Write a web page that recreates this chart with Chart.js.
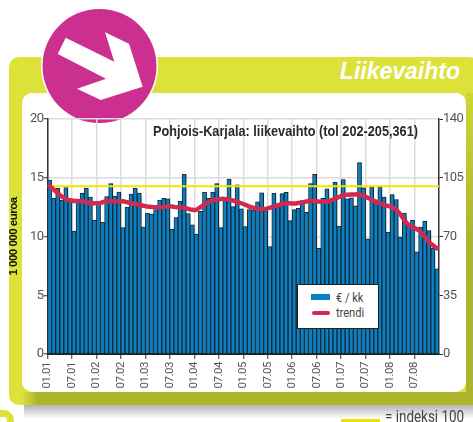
<!DOCTYPE html>
<html><head><meta charset="utf-8">
<script src="https://cdn.jsdelivr.net/npm/chart.js@4"></script>
<style>
html,body{margin:0;padding:0;background:#fff;width:473px;height:422px;overflow:hidden}
.a{position:absolute}
.n{font-family:Roboto,"Liberation Sans",sans-serif;white-space:nowrap;transform-origin:left center}
</style></head><body>
<div class="a" style="left:24px;top:405px;width:449px;height:14px;background:linear-gradient(#b4b4b4,#ffffff)"></div>
<div class="a" style="left:9px;top:57px;width:470px;height:348px;background:#dce239;border-radius:10px"></div>
<div class="a" style="left:466px;top:93px;width:7px;height:312px;background:linear-gradient(#d0d535,#acb52c 45%)"></div>
<div class="a" style="left:22px;top:392px;width:451px;height:13px;background:linear-gradient(90deg,#dce239,#acb52c 16px)"></div>
<div class="a" style="left:22px;top:93px;width:444px;height:299px;background:#fff;border-radius:10px"></div>
<div class="a" style="left:-20px;top:410px;width:20px;height:30px;border:7px solid #dce239;border-radius:10px;box-sizing:content-box"></div>
<svg class="a" style="left:0;top:0" width="473" height="130">
<circle cx="99.5" cy="66" r="58.5" fill="#fff"/><circle cx="99.5" cy="66" r="57" fill="#cb2f90"/>
<polygon fill="#fff" points="65.7,37.7 57.7,54 106,78.7 77,88.7 100.7,100 142.7,86.7 129,43.7 105,32.3 114.3,61.7"/>
</svg>
<div class="a" style="right:13px;top:56px;font:italic bold 23px 'Liberation Sans',sans-serif;color:#fff;line-height:30px">Liikevaihto</div>
<canvas id="c" class="a" style="left:0;top:0" width="473" height="422"></canvas>
<div class="a" style="left:297px;top:284px;width:80px;height:43px;background:#fff;border:1.5px solid #222"></div>
<div class="a" style="left:311px;top:294px;width:19px;height:6px;background:#0a80c4"></div>
<div class="a" style="left:312px;top:311px;width:18px;height:4px;background:#d02a50;border-radius:2px"></div>
<div class="a n" style="left:336px;top:290px;font-size:13px;line-height:16px;color:#444;transform:scaleX(.85)">€ / kk</div>
<div class="a n" style="left:336px;top:305px;font-size:13px;line-height:16px;color:#444;transform:scaleX(.85)">trendi</div>
<div class="a" style="left:341px;top:419px;width:39px;height:3px;background:#f0e000"></div>
<div class="a n" style="left:385px;top:408px;font-size:16px;line-height:18px;color:#444;transform:scaleX(.84)">= indeksi 100</div>
<script>
const tickLabels=["01.01","07.01","01.02","07.02","01.03","07.03","01.04","07.04","01.05","07.05","01.06","07.06","01.07","07.07","01.08","07.08"];
const monthlySales=[14.8,13.25,14.1,13.1,14.17,13,10.47,13,13.7,14.1,13.35,11.4,12.8,11.2,13.4,14.5,13.45,13.77,10.75,12.5,13.6,14.1,13.7,10.8,12,11.9,12.3,13.1,13.25,13.2,10.6,11.6,13,15.3,11.95,11,10.2,12.15,13.77,13.25,13.77,14.5,10.75,13.25,14.87,12.55,14.4,12.35,10.85,12.3,12.25,12.95,13.72,12.2,9.15,13.67,12.75,13.65,13.75,11.35,12.3,12.4,13.05,12.06,14.5,15.3,9,13.25,14.05,13.1,14.6,10.87,14.85,13.2,13.3,12.6,16.3,14.15,9.8,14.2,13.1,14.2,13.35,10.35,13.57,13.15,9.95,12,11,11.4,8.7,10.8,11.3,10.5,9,7.25];
const trend=[14.3,14,13.7,13.4,13.17,13.08,13.03,13.02,13,12.92,12.83,12.82,12.83,12.92,13,13.02,13,13,13,12.92,12.83,12.77,12.7,12.62,12.55,12.52,12.5,12.5,12.5,12.57,12.55,12.5,12.47,12.45,12.35,12.27,12.27,12.5,12.72,12.94,13.07,13.17,13.2,13.2,13.14,13.06,12.95,12.83,12.7,12.55,12.45,12.37,12.35,12.35,12.45,12.55,12.67,12.77,12.82,12.83,12.8,12.85,12.9,12.98,13.06,13.03,12.97,12.97,12.97,13.08,13.2,13.36,13.5,13.55,13.57,13.58,13.6,13.47,13.3,13.13,12.97,12.83,12.7,12.6,12.5,12.26,11.9,11.4,11,10.8,10.64,10.4,10,9.56,9.25,9];
const indexLine=[100,100];
const chartTitle="Pohjois-Karjala: liikevaihto (tol 202-205,361)";
const TICKFONT='Roboto,"Liberation Sans",sans-serif';
const gray='#555';
const titlePlugin={id:'inner',
 beforeDraw(ch){ch.ctx.letterSpacing='-0.5px';},
 afterDraw(ch){const x=ch.ctx;x.save();x.letterSpacing='0px';x.font='bold 14px "Liberation Sans",sans-serif';x.fillStyle='#2a2a2a';x.textAlign='center';x.textBaseline='middle';x.fillText(chartTitle,285.5,132,265);x.restore();}};
const shadowPlugin={id:'barShadow',beforeDatasetDraw(ch,a){if(a.index===2){const x=ch.ctx;x.shadowColor='rgba(0,0,0,.3)';x.shadowOffsetX=1.5;x.shadowBlur=1;}},afterDatasetDraw(ch,a){if(a.index===2){const x=ch.ctx;x.shadowColor='transparent';x.shadowOffsetX=0;x.shadowBlur=0;}}};
new Chart(document.getElementById('c'),{
 type:'bar',
 data:{datasets:[
  {type:'line',label:'trendi',data:trend.map((v,i)=>({x:i+.5,y:v})),borderColor:'#d02a50',borderWidth:4.5,pointRadius:0,tension:.3,borderCapStyle:'round',order:1,yAxisID:'y'},
  {type:'line',label:'indeksi 100',data:indexLine.map((v,i)=>({x:i*96,y:v})),borderColor:'#f2e500',borderWidth:2,pointRadius:0,order:2,yAxisID:'y2'},
  {type:'bar',label:'€ / kk',data:monthlySales.map((v,i)=>({x:i+.5,y:v})),backgroundColor:'#0a80c4',borderColor:'#1b2a35',borderWidth:1,barPercentage:1,categoryPercentage:1,order:3,yAxisID:'y'}
 ]},
 plugins:[titlePlugin,shadowPlugin],
 options:{responsive:false,animation:false,
  layout:{padding:{top:119,left:0,right:0,bottom:0}},
  plugins:{legend:{display:false},tooltip:{enabled:false}},
  scales:{
   x:{type:'linear',min:0,max:96,offset:false,
    afterFit(s){s.height=68},
    grid:{offset:false,color:'#dcdcdc',lineWidth:1.5,tickColor:'#333',tickLength:5,tickWidth:1},
    border:{color:'#222',width:2},
    afterBuildTicks(s){s.ticks=tickLabels.map((l,i)=>({value:i*6}));},
    ticks:{autoSkip:false,maxRotation:90,minRotation:90,padding:3,color:gray,font:{family:TICKFONT,size:11.5},callback:(v)=>tickLabels[v/6]}},
   y:{position:'left',min:0,max:20,
    afterFit(s){s.width=47.5},
    title:{display:true,text:'1 000 000 euroa',color:'#111',font:{family:'"Liberation Sans"',size:11.5,weight:'bold'},padding:{top:7,bottom:0}},
    grid:{color:'#dcdcdc',lineWidth:1.5,tickColor:'#333',tickLength:4,tickWidth:1},
    border:{color:'#333',width:1.5},
    ticks:{stepSize:5,padding:0,color:gray,font:{family:TICKFONT,size:13}}},
   y2:{position:'right',min:0,max:140,
    afterFit(s){s.width=34},
    grid:{drawOnChartArea:false,tickColor:'#333',tickLength:4,tickWidth:1},
    border:{color:'#333',width:1.5},
    ticks:{stepSize:35,padding:0,color:gray,font:{family:TICKFONT,size:13}}}
  }}
});
</script>
</body></html>
